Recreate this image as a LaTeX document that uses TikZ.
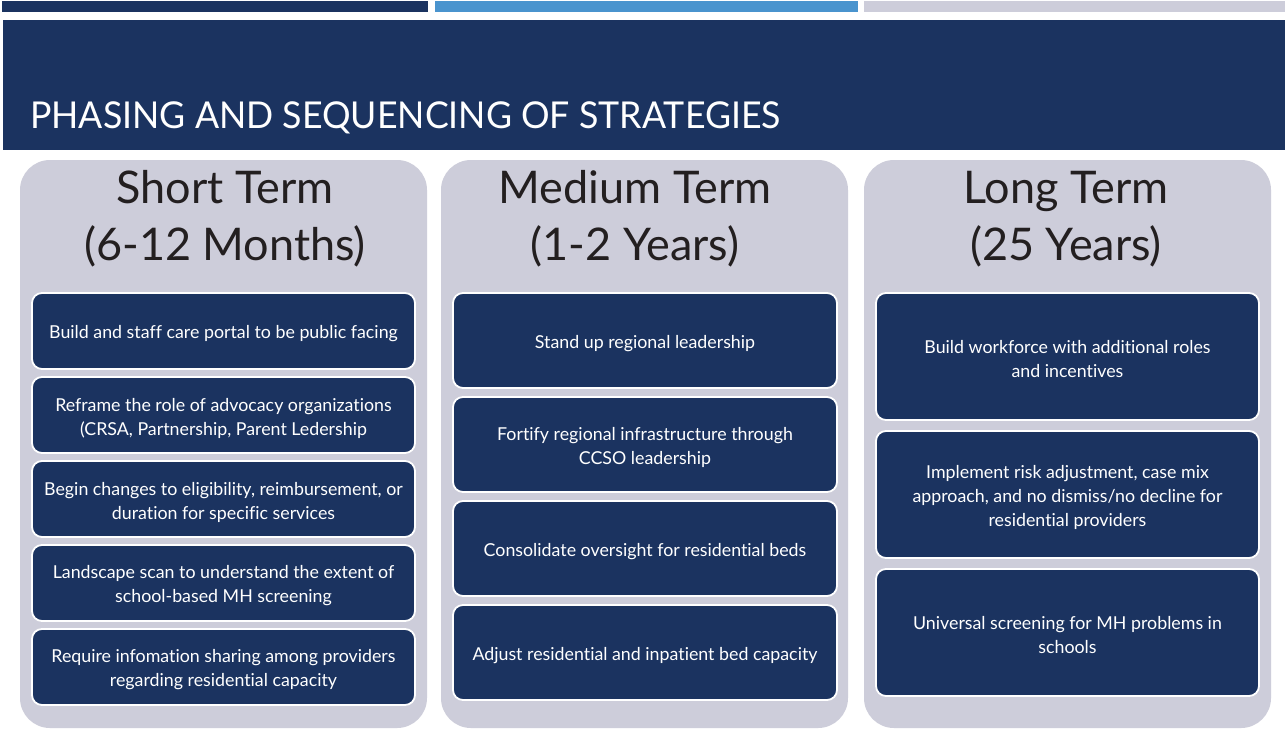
\documentclass[tikz,border=0pt]{standalone}
\usepackage{fontspec}
\setmainfont{Lato}[Ligatures={NoCommon,NoRare}]
\definecolor{navy}{RGB}{27,51,96}
\definecolor{barblue}{RGB}{74,148,206}
\definecolor{panelgray}{RGB}{205,205,218}
\definecolor{headgray}{RGB}{35,31,32}
\begin{document}
\begin{tikzpicture}[x=1pt,y=-1pt,
  panel/.style={fill=panelgray, draw=none, rounded corners=30pt},
  item/.style={fill=navy, draw=white, line width=1.8pt, rounded corners=10pt},
  itemtext/.style={text=white, align=center, font=\fontsize{17.8}{24}\selectfont, inner sep=0pt},
  heading/.style={text=headgray, align=center, font=\fontsize{45}{57}\selectfont, inner sep=0pt}]
\useasboundingbox (0,0) rectangle (1285,729);
\fill[white] (0,0) rectangle (1285,729);
% top bars
\fill[navy] (2,1) rectangle (428,12);
\fill[barblue] (435,1) rectangle (858,12);
\fill[panelgray] (864,1) rectangle (1285,12);
% title band
\fill[navy] (3,20) rectangle (1285,150);
\node[anchor=base west, text=white, inner sep=0pt] (title) at (30,128)
  {\scalebox{0.965}[1]{\fontsize{37}{40}\selectfont PHASING AND SEQUENCING OF STRATEGIES}};
% panels
\fill[panel] (20,160) rectangle (427,728);
\fill[panel] (441,160) rectangle (848,728);
\fill[panel] (864,160) rectangle (1271,728);
% headings
\node[heading] (h1) at (225,219) {Short Term\\(6-12 Months)};
\node[heading] (h2) at (635,219) {Medium Term\\(1-2 Years)};
\node[heading] (h3) at (1066,219) {Long Term\\(25 Years)};
\newcommand{\itembox}[6]{%
  \draw[item] (#1,#2) rectangle (#3,#4);
  \node[itemtext] (#5) at ({(#1+#3)/2},{(#2+#4)/2+3}) {#6};}
% column 1
\itembox{32}{293}{415}{369}{s1}{Build and staff care portal to be public facing}
\itembox{32}{377}{415}{453}{s2}{Reframe the role of advocacy organizations\\(CRSA, Partnership, Parent Ledership}
\itembox{32}{461}{415}{537}{s3}{Begin changes to eligibility, reimbursement, or\\duration for specific services}
\itembox{32}{545}{415}{621}{s4}{Landscape scan to understand the extent of\\school-based MH screening}
\itembox{32}{629}{415}{705}{s5}{Require infomation sharing among providers\\regarding residential capacity}
% column 2
\itembox{453}{293}{837}{388}{m1}{Stand up regional leadership}
\itembox{453}{397}{837}{492}{m2}{Fortify regional infrastructure through\\CCSO leadership}
\itembox{453}{501}{837}{596}{m3}{Consolidate oversight for residential beds}
\itembox{453}{605}{837}{700}{m4}{Adjust residential and inpatient bed capacity}
% column 3
\itembox{876}{293}{1259}{420}{l1}{Build workforce with additional roles\\and incentives}
\itembox{876}{431}{1259}{558}{l2}{Implement risk adjustment, case mix\\approach, and no dismiss/no decline for\\residential providers}
\itembox{876}{569}{1259}{696}{l3}{Universal screening for MH problems in\\schools}
\end{tikzpicture}
\end{document}
